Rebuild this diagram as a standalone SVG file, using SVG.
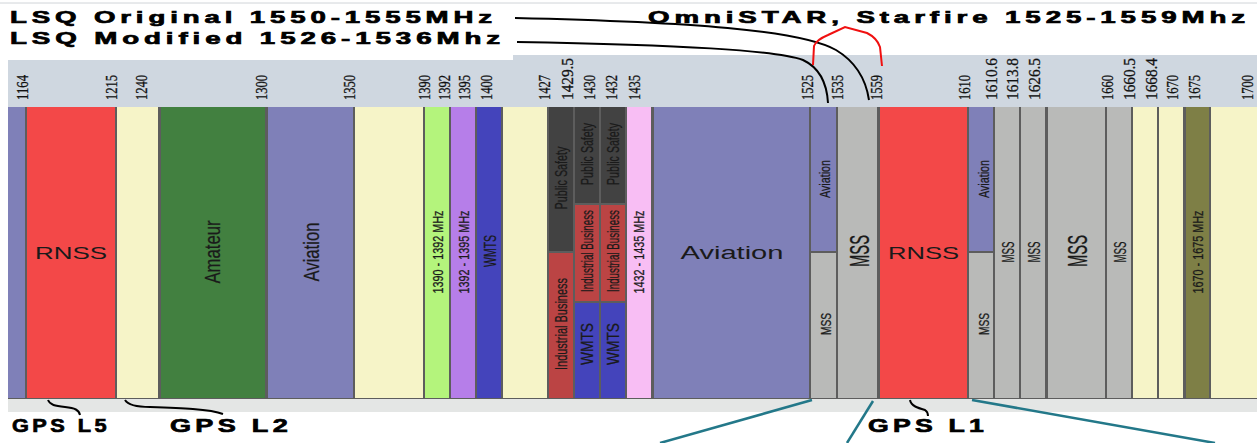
<svg xmlns="http://www.w3.org/2000/svg" width="1257" height="443" viewBox="0 0 1257 443">
<style>
.title{font-family:"Liberation Sans",Arial,sans-serif;font-weight:bold;font-size:17px;fill:#000;stroke:#000;stroke-width:0.7;letter-spacing:3px}
.gps{font-size:19px}
.ax{font-family:"Liberation Serif","Times New Roman",serif;font-size:17px;fill:#111;stroke:#111;stroke-width:0.3}
.rl{font-family:"Liberation Sans",Arial,sans-serif;fill:#1a1a1a;stroke:#1a1a1a;stroke-width:0.25;text-anchor:middle;dominant-baseline:central}
.hl{font-family:"Liberation Sans",Arial,sans-serif;fill:#1a1a1a;text-anchor:middle;dominant-baseline:central}
.purple{fill:#7f80b8}.red{fill:#f34848}.yellow{fill:#f6f4c8}.green{fill:#428040}
.lgreen{fill:#b4f47c}.lilac{fill:#b67ee9}.blue{fill:#4444bb}.dgray{fill:#424242}
.brick{fill:#bb4444}.pink{fill:#f8bef4}.mss{fill:#b9bab8}.olive{fill:#7e7f46}
.conn{fill:none;stroke:#000;stroke-width:2}
.teal{fill:none;stroke:#237889;stroke-width:2.5}
</style>
<rect width="1257" height="443" fill="#fff"/>
<line x1="0" y1="3" x2="1257" y2="3" stroke="#d0d4d8" stroke-width="1"/>
<g id="header">
<rect x="8" y="55" width="1249" height="52" fill="#cfd7e0"/>
<rect x="0" y="50" width="513" height="10" fill="#fff"/>
<rect x="8" y="398" width="1249" height="14" fill="#e4e6e5"/>
<rect x="8" y="107" width="1249" height="292" fill="#5d5d5d"/>
</g>
<g id="axis-labels" class="ax">
<text transform="translate(28,100) rotate(-90)" textLength="25" lengthAdjust="spacingAndGlyphs">1164</text>
<text transform="translate(117,100) rotate(-90)" textLength="25" lengthAdjust="spacingAndGlyphs">1215</text>
<text transform="translate(147,100) rotate(-90)" textLength="25" lengthAdjust="spacingAndGlyphs">1240</text>
<text transform="translate(267,100) rotate(-90)" textLength="25" lengthAdjust="spacingAndGlyphs">1300</text>
<text transform="translate(355,100) rotate(-90)" textLength="25" lengthAdjust="spacingAndGlyphs">1350</text>
<text transform="translate(430,100) rotate(-90)" textLength="25" lengthAdjust="spacingAndGlyphs">1390</text>
<text transform="translate(450,100) rotate(-90)" textLength="25" lengthAdjust="spacingAndGlyphs">1392</text>
<text transform="translate(470,100) rotate(-90)" textLength="25" lengthAdjust="spacingAndGlyphs">1395</text>
<text transform="translate(492,100) rotate(-90)" textLength="25" lengthAdjust="spacingAndGlyphs">1400</text>
<text transform="translate(550,100) rotate(-90)" textLength="25" lengthAdjust="spacingAndGlyphs">1427</text>
<text transform="translate(573,100) rotate(-90)" textLength="42" lengthAdjust="spacingAndGlyphs">1429.5</text>
<text transform="translate(595,100) rotate(-90)" textLength="25" lengthAdjust="spacingAndGlyphs">1430</text>
<text transform="translate(617,100) rotate(-90)" textLength="25" lengthAdjust="spacingAndGlyphs">1432</text>
<text transform="translate(640,100) rotate(-90)" textLength="25" lengthAdjust="spacingAndGlyphs">1435</text>
<text transform="translate(813,100) rotate(-90)" textLength="25" lengthAdjust="spacingAndGlyphs">1525</text>
<text transform="translate(843,100) rotate(-90)" textLength="25" lengthAdjust="spacingAndGlyphs">1535</text>
<text transform="translate(882,100) rotate(-90)" textLength="25" lengthAdjust="spacingAndGlyphs">1559</text>
<text transform="translate(970,100) rotate(-90)" textLength="25" lengthAdjust="spacingAndGlyphs">1610</text>
<text transform="translate(997,100) rotate(-90)" textLength="42" lengthAdjust="spacingAndGlyphs">1610.6</text>
<text transform="translate(1018,100) rotate(-90)" textLength="42" lengthAdjust="spacingAndGlyphs">1613.8</text>
<text transform="translate(1040,100) rotate(-90)" textLength="42" lengthAdjust="spacingAndGlyphs">1626.5</text>
<text transform="translate(1113,100) rotate(-90)" textLength="25" lengthAdjust="spacingAndGlyphs">1660</text>
<text transform="translate(1135,100) rotate(-90)" textLength="42" lengthAdjust="spacingAndGlyphs">1660.5</text>
<text transform="translate(1157,100) rotate(-90)" textLength="42" lengthAdjust="spacingAndGlyphs">1668.4</text>
<text transform="translate(1178,100) rotate(-90)" textLength="25" lengthAdjust="spacingAndGlyphs">1670</text>
<text transform="translate(1200,100) rotate(-90)" textLength="25" lengthAdjust="spacingAndGlyphs">1675</text>
<text transform="translate(1253,100) rotate(-90)" textLength="25" lengthAdjust="spacingAndGlyphs">1700</text>
</g>
<g id="band-1164"><rect class="purple" x="8" y="107" width="17" height="291"/></g>
<g id="band-rnss-l5"><rect class="red" x="27" y="107" width="88" height="291"/>
<text class="hl" x="71" y="253" font-size="17" textLength="72" lengthAdjust="spacingAndGlyphs">RNSS</text></g>
<g id="band-1215"><rect class="yellow" x="117" y="107" width="41" height="291"/></g>
<g id="band-amateur"><rect class="green" x="161" y="107" width="104" height="291"/>
<text class="rl" transform="translate(212,252) rotate(-90)" font-size="22" textLength="63" lengthAdjust="spacingAndGlyphs">Amateur</text></g>
<g id="band-aviation-1300"><rect class="purple" x="268" y="107" width="85" height="291"/>
<text class="rl" transform="translate(311,252) rotate(-90)" font-size="22" textLength="59" lengthAdjust="spacingAndGlyphs">Aviation</text></g>
<g id="band-1350"><rect class="yellow" x="355" y="107" width="68" height="291"/></g>
<g id="band-1390"><rect class="lgreen" x="425" y="107" width="24" height="291"/>
<text class="rl" transform="translate(438,252) rotate(-90)" font-size="14" textLength="83" lengthAdjust="spacingAndGlyphs">1390 - 1392 MHz</text></g>
<g id="band-1392"><rect class="lilac" x="451" y="107" width="24" height="291"/>
<text class="rl" transform="translate(464,252) rotate(-90)" font-size="14" textLength="83" lengthAdjust="spacingAndGlyphs">1392 - 1395 MHz</text></g>
<g id="band-wmts"><rect class="blue" x="477" y="107" width="24" height="291"/>
<text class="rl" transform="translate(490,251) rotate(-90)" font-size="16" textLength="32" lengthAdjust="spacingAndGlyphs">WMTS</text></g>
<g id="band-1400"><rect class="yellow" x="503" y="107" width="44" height="291"/></g>
<g id="band-1427">
<rect class="dgray" x="549" y="107" width="24" height="144"/>
<rect class="brick" x="549" y="253" width="24" height="145"/>
<text class="rl" transform="translate(561,178) rotate(-90)" font-size="16" textLength="63" lengthAdjust="spacingAndGlyphs">Public Safety</text>
<text class="rl" transform="translate(561,324) rotate(-90)" font-size="16" textLength="92" lengthAdjust="spacingAndGlyphs">Industrial Business</text></g>
<g id="band-1429">
<rect class="dgray" x="575" y="107" width="24" height="96"/>
<rect class="brick" x="575" y="205" width="24" height="96"/>
<rect class="blue" x="575" y="303" width="24" height="95"/>
<text class="rl" transform="translate(587,154) rotate(-90)" font-size="16" textLength="62" lengthAdjust="spacingAndGlyphs">Public Safety</text>
<text class="rl" transform="translate(587,251) rotate(-90)" font-size="16" textLength="82" lengthAdjust="spacingAndGlyphs">Industrial Business</text>
<text class="rl" transform="translate(587,344) rotate(-90)" font-size="16" textLength="42" lengthAdjust="spacingAndGlyphs">WMTS</text></g>
<g id="band-1430">
<rect class="dgray" x="601" y="107" width="24" height="96"/>
<rect class="brick" x="601" y="205" width="24" height="96"/>
<rect class="blue" x="601" y="303" width="24" height="95"/>
<text class="rl" transform="translate(613,154) rotate(-90)" font-size="16" textLength="62" lengthAdjust="spacingAndGlyphs">Public Safety</text>
<text class="rl" transform="translate(613,251) rotate(-90)" font-size="16" textLength="82" lengthAdjust="spacingAndGlyphs">Industrial Business</text>
<text class="rl" transform="translate(613,344) rotate(-90)" font-size="16" textLength="42" lengthAdjust="spacingAndGlyphs">WMTS</text></g>
<g id="band-1432"><rect class="pink" x="627" y="107" width="24" height="291"/>
<text class="rl" transform="translate(639,252) rotate(-90)" font-size="14" textLength="83" lengthAdjust="spacingAndGlyphs">1432 - 1435 MHz</text></g>
<g id="band-aviation-1435"><rect class="purple" x="654" y="107" width="155" height="291"/>
<text class="hl" x="732" y="253" font-size="18" textLength="103" lengthAdjust="spacingAndGlyphs">Aviation</text></g>
<g id="band-1525">
<rect class="purple" x="811" y="107" width="25" height="144"/>
<rect class="mss" x="811" y="253" width="25" height="145"/>
<text class="rl" transform="translate(824,179) rotate(-90)" font-size="15" textLength="38" lengthAdjust="spacingAndGlyphs">Aviation</text>
<text class="rl" transform="translate(825,324) rotate(-90)" font-size="15" textLength="22" lengthAdjust="spacingAndGlyphs">MSS</text></g>
<g id="band-mss-1535"><rect class="mss" x="838" y="107" width="39" height="291"/>
<text class="rl" transform="translate(859,251) rotate(-90)" font-size="28" textLength="32" lengthAdjust="spacingAndGlyphs">MSS</text></g>
<g id="band-rnss-l1"><rect class="red" x="880" y="107" width="87" height="291"/>
<text class="hl" x="923.5" y="253" font-size="17" textLength="71" lengthAdjust="spacingAndGlyphs">RNSS</text></g>
<g id="band-1610">
<rect class="purple" x="969" y="107" width="24" height="144"/>
<rect class="mss" x="969" y="253" width="24" height="145"/>
<text class="rl" transform="translate(983,179) rotate(-90)" font-size="15" textLength="38" lengthAdjust="spacingAndGlyphs">Aviation</text>
<text class="rl" transform="translate(983,324) rotate(-90)" font-size="15" textLength="22" lengthAdjust="spacingAndGlyphs">MSS</text></g>
<g id="band-1610-6"><rect class="mss" x="995" y="107" width="24" height="291"/>
<text class="rl" transform="translate(1008,252) rotate(-90)" font-size="17" textLength="21" lengthAdjust="spacingAndGlyphs">MSS</text></g>
<g id="band-1613-8"><rect class="mss" x="1021" y="107" width="24" height="291"/>
<text class="rl" transform="translate(1034,252) rotate(-90)" font-size="17" textLength="21" lengthAdjust="spacingAndGlyphs">MSS</text></g>
<g id="band-1626-5"><rect class="mss" x="1048" y="107" width="57" height="291"/>
<text class="rl" transform="translate(1077,251) rotate(-90)" font-size="28" textLength="32" lengthAdjust="spacingAndGlyphs">MSS</text></g>
<g id="band-1660"><rect class="mss" x="1107" y="107" width="24" height="291"/>
<text class="rl" transform="translate(1120,252) rotate(-90)" font-size="17" textLength="21" lengthAdjust="spacingAndGlyphs">MSS</text></g>
<g id="band-1660-5"><rect class="yellow" x="1133" y="107" width="24" height="291"/></g>
<g id="band-1668-4"><rect class="yellow" x="1159" y="107" width="24" height="291"/></g>
<g id="band-1670"><rect class="olive" x="1186" y="107" width="23" height="291"/>
<text class="rl" transform="translate(1198,252) rotate(-90)" font-size="14" textLength="83" lengthAdjust="spacingAndGlyphs">1670 - 1675 MHz</text></g>
<g id="band-1675"><rect class="yellow" x="1211" y="107" width="46" height="291"/></g>
<g id="titles">
<text id="lsq-original" class="title" x="10" y="23" textLength="487" lengthAdjust="spacingAndGlyphs">LSQ Original 1550-1555MHz</text>
<text id="lsq-modified" class="title" x="10" y="44" textLength="495" lengthAdjust="spacingAndGlyphs">LSQ Modified 1526-1536Mhz</text>
<text id="omnistar" class="title" x="648" y="23" textLength="602" lengthAdjust="spacingAndGlyphs">OmniSTAR, Starfire 1525-1559Mhz</text>
<text id="gps-l5" class="title gps" x="12" y="432" textLength="98" lengthAdjust="spacingAndGlyphs">GPS L5</text>
<text id="gps-l2" class="title gps" x="170" y="432" textLength="122" lengthAdjust="spacingAndGlyphs">GPS L2</text>
<text id="gps-l1" class="title gps" x="868" y="432" textLength="120" lengthAdjust="spacingAndGlyphs">GPS L1</text>
</g>
<g id="connectors">
<path class="conn" d="M515,18 C690,22 800,30 836,50 C856,62 866,80 869,100"/>
<path class="conn" d="M517,42 C680,45 775,50 803,60 C820,68 827,85 828,103"/>
<path fill="none" stroke="#f01010" stroke-width="2" d="M813,65 L814,46 Q816,40 828,35 L845,27 L867,33 Q877,38 880,47 L882,66"/>
<path class="conn" stroke-width="1.6" d="M48,400 C50,405 55,406 65,407 C75,408 79,410 80,415"/>
<path class="conn" stroke-width="1.6" d="M125,400 C128,405 135,407 150,407 C180,408 210,409 223,414"/>
<path class="conn" stroke-width="1.6" d="M910,400 C911,406 918,408 925,410 C928,412 928,414 928,416"/>
<line class="teal" x1="812" y1="400" x2="660" y2="443"/>
<line class="teal" x1="873" y1="401" x2="847" y2="443"/>
<line class="teal" x1="972" y1="400" x2="1215" y2="443"/>
</g>
</svg>
